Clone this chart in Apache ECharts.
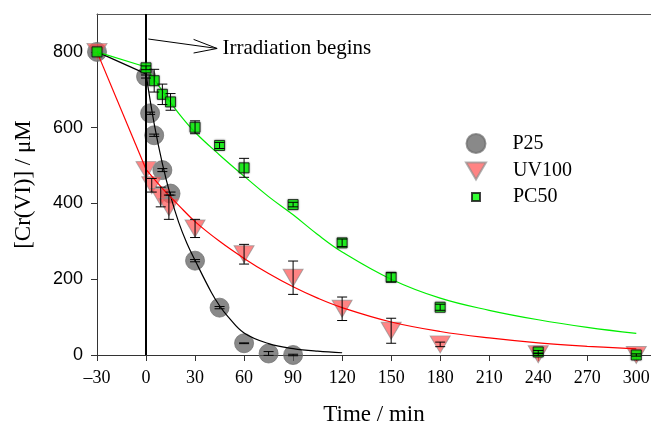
<!DOCTYPE html>
<html><head><meta charset="utf-8">
<script src="https://cdn.jsdelivr.net/npm/echarts@6/dist/echarts.min.js"></script>
<style>html,body{margin:0;padding:0;background:#fff}#c{width:651px;height:427px}</style>
</head><body><div id="c"></div>
<script>
// ---- data ----
const xTicks = [-30, 0, 30, 60, 90, 120, 150, 180, 210, 240, 270, 300];
const yTicks = [0, 200, 400, 600, 800];

const p25T   = [-30, 0, 2.5, 5, 10, 15, 30, 45, 60, 75, 90];
const p25V   = [800, 735, 638, 580, 488, 426, 249, 125, 31, 4, 0];
const p25E   = [0, 4, 3, 3, 4, 4, 3, 3, 1, 5, 2];

const uvT    = [-30, 0, 3.5, 9, 14, 30, 60, 90, 120, 150, 180, 240, 300];
const uvV    = [800, 488, 448, 417, 390, 334, 266, 204, 122, 64, 28, 2, 0];
const uvE    = [0, 0, 18, 26, 32, 24, 26, 44, 31, 33, 6, 3, 0];

const pcT    = [-30, 0, 5, 10, 15, 30, 45, 60, 90, 120, 150, 180, 240, 300];
const pcV    = [800, 758, 724, 688, 668, 601, 553, 494, 397, 296, 205, 126, 8, 0];
const pcE    = [0, 5, 30, 27, 22, 17, 8, 25, 6, 10, 12, 8, 4, 3];

// fitted curves
const p25LeadT = [-30, 0];       const p25LeadV = [800, 742];
const p25FitT  = [0, 5, 10, 15, 20, 25, 30, 40, 45, 50, 60, 75, 90, 105, 120];
const p25FitV  = [742, 610, 505, 420, 350, 295, 250, 165, 130, 102, 58, 30, 17, 10, 6];

const uvLeadT  = [-30, 0];       const uvLeadV  = [800, 490];
const uvFitT   = [0, 10, 20, 30, 45, 60, 75, 90, 105, 120, 150, 180, 210, 240, 270, 300];
const uvFitV   = [490, 440, 395, 352, 300, 255, 215, 180, 150, 125, 87, 62, 45, 32, 23, 16];

const pcLeadT  = [-30, 0];       const pcLeadV  = [800, 760];
const pcFitT   = [0, 10, 20, 30, 45, 60, 75, 90, 105, 120, 150, 180, 210, 240, 270, 300];
const pcFitV   = [760, 697, 638, 588, 528, 472, 418, 370, 318, 272, 200, 150, 118, 93, 73, 57];

const names = ['P25', 'UV100', 'PC50'];
const annText = 'Irradiation begins';

// ---- helpers ----
const zip = (a, b) => a.map((v, i) => [v, b[i]]);
const zip3 = (a, b, c) => a.map((v, i) => [v, b[i], c[i]]);
const SERIF = 'Liberation Serif';
const SANS = 'Liberation Sans';

function errRender(params, api) {
  const x = api.value(0), y = api.value(1), e = api.value(2);
  if (!e) return null;
  const t = api.coord([x, y + e]), b = api.coord([x, y - e]);
  const w = 5;
  const st = { stroke: '#000', lineWidth: 1 };
  return { type: 'group', children: [
    { type: 'line', shape: { x1: t[0], y1: t[1], x2: b[0], y2: b[1] }, style: st },
    { type: 'line', shape: { x1: t[0] - w, y1: t[1], x2: t[0] + w, y2: t[1] }, style: st },
    { type: 'line', shape: { x1: b[0] - w, y1: b[1], x2: b[0] + w, y2: b[1] }, style: st }
  ]};
}

const chart = echarts.init(document.getElementById('c'), null, { renderer: 'canvas' });

const lineS = (data, color, smooth) => ({
  type: 'line', data, smooth, symbol: 'none', silent: true,
  lineStyle: { color, width: 1.2 }, z: 4
});

const legendItem = (name, icon, w, h, left, top, pad) => ({
  orient: 'vertical', padding: 0, itemWidth: w, itemHeight: h, selectedMode: false,
  left, top,
  data: [{ name, icon }],
  textStyle: { fontFamily: SERIF, fontSize: 20, color: '#000', padding: [0, 0, 0, pad] }
});

chart.setOption({
  animation: false,
  backgroundColor: '#fff',
  grid: { left: 97, right: 0, top: 14, bottom: 72, containLabel: false, outerBoundsMode: 'none' },
  legend: [
    legendItem(names[0], 'circle', 19, 19, 465.5, 133, 22),
    legendItem(names[1], 'path://M0,0 L20,0 L10,17 Z', 20, 17, 465, 161, 22),
    legendItem(names[2], 'rect', 8, 8, 471, 187, 28)
  ],
  xAxis: [{
    type: 'value', min: -30, max: 309, interval: 30,
    name: 'Time / min', nameLocation: 'middle', nameGap: 48,
    nameTextStyle: { fontFamily: SERIF, fontSize: 23, color: '#000' },
    axisLine: { onZero: false, lineStyle: { color: '#333', width: 1 } },
    axisTick: { show: true, inside: false, length: 6, lineStyle: { color: '#333' }, customValues: xTicks },
    axisLabel: { fontFamily: SERIF, fontSize: 18, color: '#000', margin: 14, customValues: xTicks,
      formatter: v => String(v).replace('-', '\u2013') },
    splitLine: { show: false }
  }, {
    type: 'value', min: -30, max: 309, position: 'top',
    axisLine: { show: true, onZero: false, lineStyle: { color: '#555', width: 1 } },
    axisTick: { show: false }, axisLabel: { show: false }, splitLine: { show: false }
  }],
  yAxis: {
    type: 'value', min: 0, max: 900, interval: 100,
    name: '[Cr(VI)] / \u03bcM', nameLocation: 'middle', nameGap: 62, nameRotate: 90,
    nameTextStyle: { fontFamily: SERIF, fontSize: 23, color: '#000' },
    axisLine: { show: true, onZero: false, lineStyle: { color: '#333', width: 1 } },
    axisTick: { show: true, inside: false, length: 6, lineStyle: { color: '#333' }, customValues: yTicks },
    axisLabel: { fontFamily: SANS, fontSize: 18, color: '#000', margin: 14, customValues: yTicks },
    splitLine: { show: false }
  },
  series: [
    { name: names[0], type: 'scatter', data: zip(p25T, p25V), symbol: 'circle', symbolSize: 19, clip: false,
      itemStyle: { color: 'rgba(92,92,92,0.9)', borderColor: 'rgba(110,110,110,0.9)', borderWidth: 1 }, z: 2 },
    { name: names[1], type: 'scatter', data: zip(uvT, uvV), symbol: 'triangle', symbolRotate: 180,
      symbolSize: [20, 17], clip: false,
      itemStyle: { color: 'rgba(255,85,85,0.9)', borderColor: 'rgba(140,140,140,0.85)', borderWidth: 1 }, z: 3 },
    { name: names[2], type: 'scatter', data: zip(pcT, pcV), symbol: 'rect', symbolSize: 10, clip: false,
      itemStyle: { color: '#00ff00', borderColor: '#111', borderWidth: 1, shadowColor: 'rgba(0,0,0,0.45)', shadowBlur: 2 }, z: 5 },
    lineS(zip(p25LeadT, p25LeadV), '#000', false),
    lineS(zip(p25FitT, p25FitV), '#000', 0.4),
    lineS(zip(uvLeadT, uvLeadV), '#ff0000', false),
    lineS(zip(uvFitT, uvFitV), '#ff0000', 0.4),
    lineS(zip(pcLeadT, pcLeadV), '#00ee00', false),
    lineS(zip(pcFitT, pcFitV), '#00ee00', 0.4),
    { type: 'custom', renderItem: errRender, data: zip3(p25T, p25V, p25E), z: 6, silent: true, clip: false },
    { type: 'custom', renderItem: errRender, data: zip3(uvT, uvV, uvE), z: 6, silent: true, clip: false },
    { type: 'custom', renderItem: errRender, data: zip3(pcT, pcV, pcE), z: 6, silent: true, clip: false,
      markLine: { silent: true, symbol: 'none', label: { show: false },
        lineStyle: { color: '#000', width: 2, type: 'solid' }, data: [{ xAxis: 0 }] } }
  ]
});

// annotation arrow + text, positioned from data coordinates
const P = (t, v) => chart.convertToPixel({ xAxisIndex: 0, yAxisIndex: 0 }, [t, v]);
const a0 = P(1.4, 834), tip = P(43.5, 809), arm1 = P(29.1, 833), arm2 = P(29.1, 797), txt = P(46.8, 809);
chart.setOption({
  graphic: [
    { type: 'line', shape: { x1: a0[0], y1: a0[1], x2: tip[0], y2: tip[1] }, style: { stroke: '#000', lineWidth: 1 } },
    { type: 'polyline', shape: { points: [arm1, tip, arm2] }, style: { stroke: '#000', lineWidth: 1, fill: null } },
    { type: 'text', x: txt[0], y: txt[1], style: { text: annText, font: '21px "Liberation Serif"', fill: '#000',
      verticalAlign: 'middle', align: 'left' } }
  ]
});
</script></body></html>
